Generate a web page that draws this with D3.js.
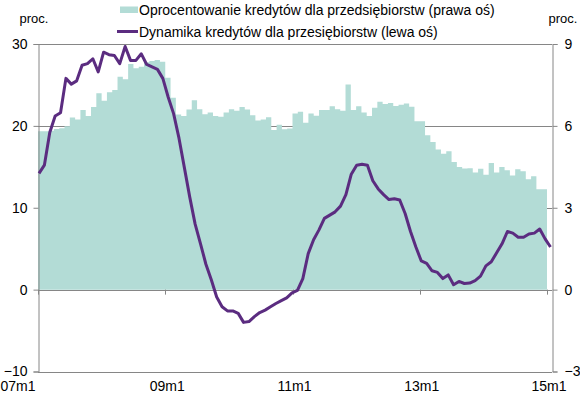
<html>

<head>
    <meta charset="UTF-8">
    <title>Kredyty dla przedsiebiorstw</title>
    <style>
        body { margin: 0; background: #fff; }
        text { font-family: "Liberation Sans", Arial, sans-serif; fill: #000; }
    </style>
</head>

<body>
<script src="https://d3js.org/d3.v7.min.js"></script>

    <!-- Div for SVG chart creation -->
    <div id="svg_chart"></div>

<script>
    // Months 07m1 .. 14m12
    var years = ['07', '08', '09', '10', '11', '12', '13', '14'];
    var months = [];
    years.forEach(function(y) {
        for (var m = 1; m <= 12; m++) { months.push(y + 'm' + m); }
    });

    // Oprocentowanie kredytow (prawa os), %
    var rateValues = [
        5.80, 5.80, 5.82, 5.89, 5.91, 5.99, 6.31, 6.23, 6.58, 6.36, 6.69, 7.20,
        6.92, 7.23, 7.31, 7.80, 7.71, 8.27, 8.11, 8.17, 8.33, 8.38, 8.41, 8.35,
        7.76, 7.03, 6.42, 6.36, 6.60, 6.94, 6.61, 6.43, 6.49, 6.36, 6.33, 6.49,
        6.61, 6.55, 6.69, 6.60, 6.39, 6.20, 6.23, 6.32, 5.85, 6.04, 5.88, 5.90,
        6.45, 6.52, 6.11, 6.45, 6.37, 6.58, 6.58, 6.72, 6.61, 6.55, 7.52, 6.58,
        6.72, 6.49, 6.36, 6.66, 6.88, 6.80, 6.84, 6.73, 6.77, 6.82, 6.70, 6.17,
        6.17, 5.66, 5.41, 5.13, 4.98, 5.07, 4.68, 4.49, 4.44, 4.45, 4.29, 4.43,
        4.21, 4.64, 4.29, 4.49, 4.37, 4.18, 4.41, 4.34, 4.04, 4.15, 3.68, 3.68
    ];

    // Dynamika kredytow (lewa os), % r/r
    var growthValues = [
        14.2, 15.2, 19.2, 21.2, 21.6, 25.8, 25.1, 25.5, 27.4, 27.6, 28.2, 26.6,
        29.0, 28.7, 28.6, 27.6, 29.7, 28.0, 28.0, 28.8, 27.5, 27.2, 26.9, 25.8,
        23.5, 21.5, 18.5, 14.9, 11.3, 8.0, 5.6, 3.1, 1.2, -0.9, -2.1, -2.6,
        -2.6, -2.9, -4.0, -3.9, -3.3, -2.8, -2.5, -2.1, -1.7, -1.35, -1.0, -0.4,
        -0.1, 1.35, 4.4, 6.1, 7.3, 8.7, 9.1, 9.5, 10.2, 11.6, 14.1, 15.2,
        15.3, 15.2, 13.3, 12.3, 11.6, 11.0, 11.1, 10.95, 9.3, 7.1, 5.2, 3.5,
        3.2, 2.3, 2.1, 1.35, 1.8, 0.6, 1.0, 0.75, 0.8, 1.1, 1.65, 2.9,
        3.4, 4.5, 5.6, 7.1, 6.9, 6.4, 6.4, 6.8, 6.9, 7.4, 6.2, 5.2
    ];

    // Axis ticks
    var leftTicks = [-10, 0, 10, 20, 30];
    var rightTicks = [-3, 0, 3, 6, 9];
    var xTickLabels = ['07m1', '09m1', '11m1', '13m1', '15m1'];

    var legendLabels = [
        'Oprocentowanie kredytów dla przedsiębiorstw (prawa oś)',
        'Dynamika kredytów dla przesiębiorstw (lewa oś)'
    ];

    var teal = '#b3dcd6',
        purple = '#5b2c80',
        axisGray = '#868686';

    const svg = d3.select("#svg_chart")
        .append("svg")
        .attr("width", 580)
        .attr("height", 395);

    // Scales
    let xBar = d3.scaleLinear().domain([0, months.length]).range([38, 547]);
    let xLine = d3.scaleLinear().domain([0, months.length - 1]).range([39, 550.5]);
    let yLeft = d3.scaleLinear().domain([-10, 30]).range([371.5, 44]);
    let yRight = d3.scaleLinear().domain([-3, 9]).range([371.5, 44]);

    let plotLeft = 38, plotRight = 552;

    // Gridlines (behind the bars)
    svg.append("g")
        .selectAll("line")
        .data(leftTicks)
        .enter()
        .append("line")
        .attr("x1", plotLeft)
        .attr("x2", plotRight)
        .attr("y1", d => Math.round(yLeft(d)) + 0.5)
        .attr("y2", d => Math.round(yLeft(d)) + 0.5)
        .attr("stroke", axisGray)
        .attr("stroke-width", 1);

    // Bars for the interest rate (right axis), drawn as one stepped shape so
    // neighbouring months touch without seams
    let barData = rateValues.concat([rateValues[rateValues.length - 1]]);
    let barArea = d3.area()
        .x((d, i) => xBar(i))
        .y0(yRight(0))
        .y1(d => yRight(d))
        .curve(d3.curveStepAfter);

    svg.append("path")
        .datum(barData)
        .attr("d", barArea)
        .attr("fill", teal);

    // Zero line / category axis
    svg.append("line")
        .attr("x1", plotLeft)
        .attr("x2", plotRight)
        .attr("y1", Math.round(yLeft(0)) + 0.5)
        .attr("y2", Math.round(yLeft(0)) + 0.5)
        .attr("stroke", axisGray);

    // Category tick marks every 24 months
    svg.append("g")
        .selectAll("line")
        .data(xTickLabels)
        .enter()
        .append("line")
        .attr("x1", (d, i) => Math.round(xBar(i * 24)) + 0.5)
        .attr("x2", (d, i) => Math.round(xBar(i * 24)) + 0.5)
        .attr("y1", yLeft(0))
        .attr("y2", yLeft(0) + 5)
        .attr("stroke", axisGray);

    // Left axis
    svg.append("g")
        .attr("class", "axis axis-left")
        .attr("transform", "translate(" + (plotLeft + 0.5) + ",0)")
        .call(d3.axisLeft(yLeft).tickValues(leftTicks).tickSize(5).tickPadding(6))
        .call(g => g.select(".domain").attr("stroke", axisGray))
        .call(g => g.selectAll(".tick line").attr("stroke", axisGray))
        .call(g => g.selectAll("text").style("font-size", "14px").attr("fill", "#000"));

    // Right axis
    svg.append("g")
        .attr("class", "axis axis-right")
        .attr("transform", "translate(" + (plotRight + 0.5) + ",0)")
        .call(d3.axisRight(yRight).tickValues(rightTicks).tickSize(5).tickPadding(7))
        .call(g => g.select(".domain").attr("stroke", axisGray))
        .call(g => g.selectAll(".tick line").attr("stroke", axisGray))
        .call(g => g.selectAll("text").style("font-size", "14px").attr("fill", "#000"));

    // X labels at the bottom
    svg.append("g")
        .selectAll("text")
        .data(xTickLabels)
        .enter()
        .append("text")
        .attr("x", (d, i) => i == 0 ? xBar(0) - 20 : xBar(i * 24) + 2)
        .attr("y", 391)
        .attr("text-anchor", "middle")
        .style("font-size", "14px")
        .text(d => d);

    // Unit labels
    svg.append("text").attr("x", 34).attr("y", 23).attr("text-anchor", "middle")
        .style("font-size", "13px").text("proc.");
    svg.append("text").attr("x", 563).attr("y", 23).attr("text-anchor", "middle")
        .style("font-size", "13px").text("proc.");

    // Growth line (left axis)
    let line = d3.line()
        .x((d, i) => xLine(i))
        .y(d => yLeft(d));

    svg.append("path")
        .datum(growthValues)
        .attr("d", line)
        .attr("fill", "none")
        .attr("stroke", purple)
        .attr("stroke-width", 3)
        .attr("stroke-linejoin", "round");

    // Legend
    let legend = svg.append("g");
    legend.append("rect")
        .attr("x", 120).attr("y", 6.5)
        .attr("width", 18).attr("height", 6.5)
        .attr("fill", teal);
    legend.append("text")
        .attr("x", 139).attr("y", 15)
        .style("font-size", "14px")
        .text(legendLabels[0]);
    legend.append("line")
        .attr("x1", 117).attr("x2", 138)
        .attr("y1", 31.5).attr("y2", 31.5)
        .attr("stroke", purple)
        .attr("stroke-width", 3);
    legend.append("text")
        .attr("x", 139).attr("y", 36.5)
        .style("font-size", "14px")
        .text(legendLabels[1]);
</script>

</body>

</html>
